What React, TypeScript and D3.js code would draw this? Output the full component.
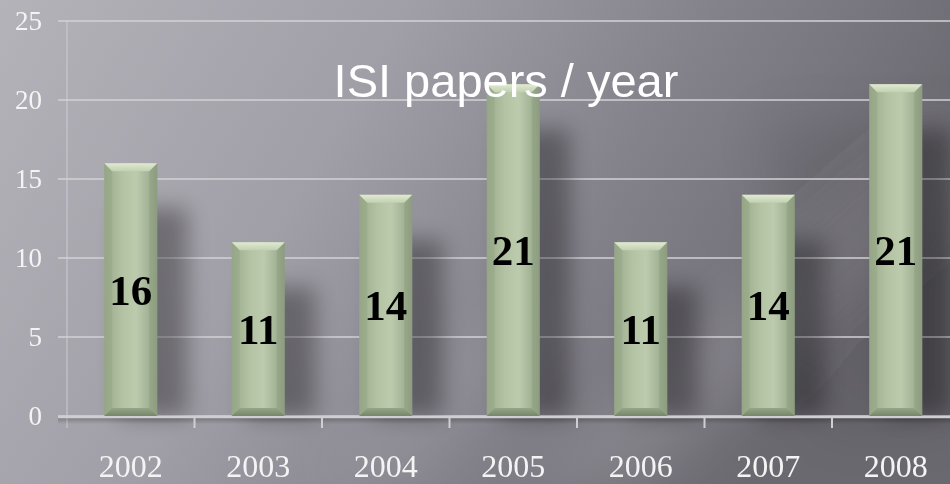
import React from "react";
import * as d3 from "d3";

const years = ["2002", "2003", "2004", "2005", "2006", "2007", "2008"];
const papers = [16, 11, 14, 21, 11, 14, 21];
const yTicks = [0, 5, 10, 15, 20, 25];
const title = "ISI papers / year";

const W = 950;
const H = 484;

export default function App() {
  const x = d3
    .scaleBand<string>()
    .domain(years)
    .range([67, 67 + 7 * 127.5])
    .paddingInner(0.584)
    .paddingOuter(0.292);
  const y = d3.scaleLinear().domain([0, 25]).range([416, 21]);
  const bw = x.bandwidth();
  const bv = 8;
  const serif = "'Palatino Linotype','Book Antiqua','Liberation Serif',serif";
  const y0 = y(0);

  return (
    <svg width={W} height={H} style={{ position: "absolute", left: 0, top: 0, display: "block" }}>
      <defs>
        <linearGradient id="bg" x1="0" y1="0" x2="1" y2="0.3">
          <stop offset="0" stopColor="#b5b3ba" />
          <stop offset="0.4" stopColor="#a09ea6" />
          <stop offset="0.7" stopColor="#83818a" />
          <stop offset="1" stopColor="#6b6970" />
        </linearGradient>
        <linearGradient id="face" x1="0" y1="0" x2="1" y2="0">
          <stop offset="0" stopColor="#9aab8c" />
          <stop offset="0.35" stopColor="#b3c3a3" />
          <stop offset="0.6" stopColor="#bccbad" />
          <stop offset="1" stopColor="#93a385" />
        </linearGradient>
        <linearGradient id="topbev" x1="0" y1="0" x2="0" y2="1">
          <stop offset="0" stopColor="#e0ead2" />
          <stop offset="1" stopColor="#c2d0b1" />
        </linearGradient>
        <linearGradient id="botbev" x1="0" y1="0" x2="0" y2="1">
          <stop offset="0" stopColor="#95a587" />
          <stop offset="1" stopColor="#76866a" />
        </linearGradient>
        <filter id="blur10" x="-50%" y="-50%" width="200%" height="200%">
          <feGaussianBlur stdDeviation="11" />
        </filter>
        <filter id="blur25" x="-50%" y="-50%" width="200%" height="200%">
          <feGaussianBlur stdDeviation="25" />
        </filter>
        <linearGradient id="axshadow" x1="0" y1="0" x2="0" y2="1">
          <stop offset="0" stopColor="#000" stopOpacity="0.22" />
          <stop offset="1" stopColor="#000" stopOpacity="0" />
        </linearGradient>
      </defs>

      {/* background */}
      <rect x={0} y={0} width={W} height={H} fill="url(#bg)" />
      <g filter="url(#blur25)">
        <polygon points="520,484 640,484 950,210 950,110" fill="#fff" opacity={0.1} />
        <polygon points="760,120 950,120 950,430 820,430" fill="#000" opacity={0.08} />
        <polygon points="300,484 430,484 580,300 500,300" fill="#fff" opacity={0.06} />
      </g>

      {/* gridlines */}
      {yTicks.map((t) => (
        <line key={t} x1={58} x2={W} y1={y(t)} y2={y(t)} stroke="#d2d1d6" strokeOpacity={0.75} strokeWidth={2} />
      ))}
      <line x1={67} x2={67} y1={y(25)} y2={428} stroke="#d2d1d6" strokeOpacity={0.6} strokeWidth={1.5} />

      {/* bar shadows */}
      {years.map((yr, i) => {
        const bx = x(yr)!;
        const top = y(papers[i]);
        return (
          <rect
            key={"s" + yr}
            x={bx + 16}
            y={top + 45}
            width={bw + 14}
            height={y0 - top - 45}
            fill="#000"
            opacity={0.33}
            filter="url(#blur10)"
          />
        );
      })}

      {/* axis */}
      <rect x={58} y={418} width={W - 58} height={6} fill="url(#axshadow)" />
      <line x1={58} x2={W} y1={417} y2={417} stroke="#cfced3" strokeWidth={2.5} />
      {d3.range(1, 7).map((k) => {
        const bx = x.range()[0] + k * x.step();
        return <line key={"tk" + k} x1={bx} x2={bx} y1={417} y2={428} stroke="#cfced3" strokeWidth={2} />;
      })}

      {/* bars */}
      {years.map((yr, i) => {
        const x0 = x(yr)!;
        const x1 = x0 + bw;
        const t = y(papers[i]);
        const b = y0;
        return (
          <g key={"b" + yr}>
            <rect x={x0} y={t} width={bw} height={b - t} fill="url(#face)" />
            <polygon points={`${x0},${t} ${x0 + bv},${t + bv} ${x0 + bv},${b - bv} ${x0},${b}`} fill="#8a9b7c" opacity={0.3} />
            <polygon points={`${x1},${t} ${x1 - bv},${t + bv} ${x1 - bv},${b - bv} ${x1},${b}`} fill="#7e8e71" opacity={0.3} />
            <polygon points={`${x0},${t} ${x1},${t} ${x1 - bv},${t + bv} ${x0 + bv},${t + bv}`} fill="url(#topbev)" />
            <polygon points={`${x0},${b} ${x1},${b} ${x1 - bv},${b - bv} ${x0 + bv},${b - bv}`} fill="url(#botbev)" />
          </g>
        );
      })}

      {/* value labels */}
      {years.map((yr, i) => (
        <text
          key={"v" + yr}
          x={x(yr)! + bw / 2}
          y={(y(papers[i]) + y0) / 2 + 15}
          textAnchor="middle"
          fontFamily={serif}
          fontWeight="bold"
          fontSize={43}
          fill="#000"
        >
          {papers[i]}
        </text>
      ))}

      {/* y tick labels */}
      {yTicks.map((t) => (
        <text key={"yl" + t} x={42} y={y(t) + 9} textAnchor="end" fontFamily={serif} fontSize={27} fill="#f4f4f4">
          {t}
        </text>
      ))}

      {/* x labels */}
      {years.map((yr) => (
        <text key={"xl" + yr} x={x(yr)! + bw / 2} y={477} textAnchor="middle" fontFamily={serif} fontSize={32} fill="#f4f4f4">
          {yr}
        </text>
      ))}

      {/* title */}
      <text x={506} y={97} textAnchor="middle" fontFamily="'Liberation Sans',Arial,sans-serif" fontSize={47} fill="#ffffff">
        {title}
      </text>
    </svg>
  );
}
